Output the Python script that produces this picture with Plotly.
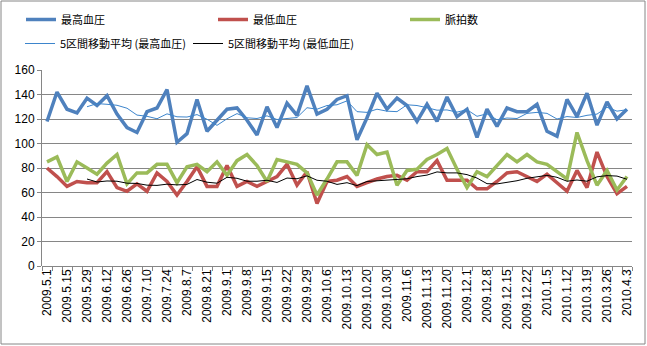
import pandas as pd
import plotly.graph_objects as go

# Date labels shown on the category axis (every other measurement)
date_labels = [
    "2009.5.1", "2009.5.15", "2009.5.29", "2009.6.12", "2009.6.26", "2009.7.10",
    "2009.7.24", "2009.8.7", "2009.8.21", "2009.9.1", "2009.9.8", "2009.9.15",
    "2009.9.22", "2009.9.29", "2009.10.6", "2009.10.13", "2009.10.20", "2009.10.30",
    "2009.11.6", "2009.11.13", "2009.11.20", "2009.12.1", "2009.12.8", "2009.12.15",
    "2009.12.22", "2010.1.5", "2010.1.12", "2010.3.19", "2010.3.26", "2010.4.3",
]

# 最高血圧 (systolic)
systolic = [
    118, 142, 128, 125, 137, 131, 139, 124, 113, 109,
    126, 129, 144, 101, 108, 136, 110, 119, 128, 129,
    119, 107, 130, 113, 133, 123, 147, 124, 128, 136,
    139, 103, 121, 141, 128, 137, 131, 118, 132, 118,
    138, 122, 128, 105, 128, 114, 129, 126, 126, 132,
    110, 106, 136, 122, 141, 115, 134, 120, 128,
]

# 最低血圧 (diastolic)
diastolic = [
    80, 73, 65, 69, 68, 68, 77, 64, 61, 67,
    61, 76, 69, 58, 69, 81, 65, 65, 82, 65,
    69, 65, 69, 73, 83, 66, 77, 51, 69, 70,
    73, 65, 68, 71, 73, 74, 70, 77, 77, 86,
    70, 70, 70, 63, 63, 69, 76, 77, 73, 69,
    75, 68, 61, 78, 64, 93, 73, 59, 65,
]

# 脈拍数 (pulse)
pulse = [
    85, 89, 69, 85, 80, 75, 84, 91, 67, 76,
    76, 83, 83, 68, 81, 83, 77, 85, 74, 86,
    91, 82, 69, 87, 85, 83, 76, 58, 71, 85,
    85, 74, 99, 91, 93, 66, 78, 79, 87, 91,
    96, 79, 64, 77, 73, 82, 91, 85, 91, 85,
    83, 77, 71, 109, 86, 66, 78, 62, 73,
]

idx = list(range(len(systolic)))

# 5-period moving averages (trendlines)
ma_sys = pd.Series(systolic).rolling(5).mean().tolist()
ma_dia = pd.Series(diastolic).rolling(5).mean().tolist()

BLUE = "#4F81BD"
RED = "#C0504D"
GREEN = "#9BBB59"
GRID = "#868686"
JP_FONT = "Noto Sans CJK JP"

fig = go.Figure()
fig.add_trace(go.Scatter(x=idx, y=systolic, mode="lines", name="最高血圧",
                         line=dict(color=BLUE, width=3.5), legend="legend"))
fig.add_trace(go.Scatter(x=idx, y=diastolic, mode="lines", name="最低血圧",
                         line=dict(color=RED, width=3.5), legend="legend"))
fig.add_trace(go.Scatter(x=idx, y=pulse, mode="lines", name="脈拍数",
                         line=dict(color=GREEN, width=3.5), legend="legend"))
fig.add_trace(go.Scatter(x=idx, y=ma_sys, mode="lines", name="5区間移動平均 (最高血圧)",
                         line=dict(color="#3D85CC", width=1), legend="legend2"))
fig.add_trace(go.Scatter(x=idx, y=ma_dia, mode="lines", name="5区間移動平均 (最低血圧)",
                         line=dict(color="#000000", width=1), legend="legend3"))

legend_common = dict(
    orientation="h", xref="container", yref="container",
    xanchor="left", yanchor="middle",
    font=dict(family=JP_FONT, size=11, color="#000000"),
    bgcolor="rgba(0,0,0,0)", borderwidth=0,
    itemwidth=30, tracegroupgap=0,
)

row1_y = 1 - 19.5 / 346
row2_y = 1 - 43.5 / 346

fig.update_layout(
    width=647, height=346,
    margin=dict(l=42, r=15, t=70, b=80, autoexpand=False),
    paper_bgcolor="white", plot_bgcolor="white",
    showlegend=True,
    legend=dict(**legend_common, x=21 / 647, y=row1_y,
                entrywidthmode="pixels", entrywidth=147),
    legend2=dict(**legend_common, x=20 / 647, y=row2_y),
    legend3=dict(**legend_common, x=188 / 647, y=row2_y),
    xaxis=dict(
        range=[-0.5, len(idx) - 0.5],
        tickmode="array", tickvals=idx[::2], ticktext=date_labels,
        tickangle=-90, ticks="", showgrid=False, zeroline=False,
        showline=False,
        tickfont=dict(family="Liberation Sans, Arial", size=12, color="#000000"),
        minor=dict(ticks="outside", tick0=-0.5, dtick=1, ticklen=4,
                   tickcolor=GRID, tickwidth=1, showgrid=False),
    ),
    yaxis=dict(
        range=[0, 160], dtick=20, tick0=0,
        showgrid=True, gridcolor=GRID, gridwidth=1,
        zeroline=True, zerolinecolor=GRID, zerolinewidth=1,
        showline=True, linecolor=GRID, linewidth=1,
        ticks="outside", ticklen=4, tickcolor=GRID,
        tickfont=dict(family="Liberation Sans, Arial", size=12, color="#000000"),
    ),
    shapes=[
        # outer chart border
        dict(type="rect", xref="paper", yref="paper",
             x0=(1 - 42) / 590, x1=(645 - 42) / 590,
             y0=(266 - 344) / 196, y1=(266 - 1) / 196,
             line=dict(color=GRID, width=1), fillcolor="rgba(0,0,0,0)",
             layer="below"),
    ],
)

fig.write_html("out.html")
